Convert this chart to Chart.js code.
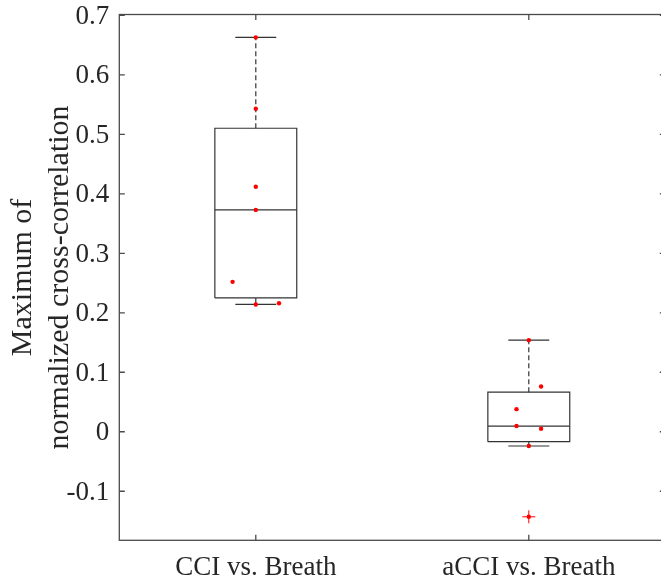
<!DOCTYPE html>
<html>
<head>
<meta charset="utf-8">
<script src="https://cdn.jsdelivr.net/npm/chart.js@4.4.0/dist/chart.umd.min.js"></script>
<style>
html, body { margin: 0; padding: 0; overflow: hidden; background: #fff; }
#wrap { width: 661px; height: 583px; overflow: hidden; position: relative; }
#myChart { position: absolute; left: 0; top: 0; }
</style>
</head>
<body>
<div id="wrap"><canvas id="myChart" width="666" height="583"></canvas></div>
<script>
// values
const categories = ['CCI vs. Breath', 'aCCI vs. Breath'];
const cciValues = [0.663, 0.543, 0.412, 0.373, 0.252, 0.214, 0.216];
const cciJitter = [0, 0, 0, 0, -0.085, 0, 0.085];
const acciValues = [0.154, 0.076, 0.038, 0.0096, 0.005, -0.024, -0.143];
const acciJitter = [0, 0.045, -0.045, -0.045, 0.045, 0, 0];
const yTicks = [-0.1, 0, 0.1, 0.2, 0.3, 0.4, 0.5, 0.6, 0.7];
const yLabel = ['Maximum of', 'normalized cross-correlation'];

const groups = [
    {values: cciValues, jitter: cciJitter},
    {values: acciValues, jitter: acciJitter}
];

const textColor = '#262626';
const lineColor = '#333333';
const fontFamily = "'Liberation Serif', 'Times New Roman', serif";

// same percentile rule as matlab's prctile
function prctile(sorted, p) {
    const n = sorted.length;
    const pos = n * p / 100 + 0.5;
    if (pos < 1) return sorted[0];
    if (pos >= n) return sorted[n - 1];
    const i = Math.floor(pos);
    return sorted[i - 1] + (pos - i) * (sorted[i] - sorted[i - 1]);
}

function boxStats(values) {
    const s = values.slice().sort((a, b) => a - b);
    const q1 = prctile(s, 25), med = prctile(s, 50), q3 = prctile(s, 75);
    const iqr = q3 - q1;
    const lo = q1 - 1.5 * iqr, hi = q3 + 1.5 * iqr;
    const inside = s.filter(v => v >= lo && v <= hi);
    return {
        q1, med, q3,
        wLow: inside[0],
        wHigh: inside[inside.length - 1],
        outliers: s.filter(v => v < lo || v > hi)
    };
}

function segment(points, dash) {
    return {
        data: points,
        showLine: true,
        fill: false,
        borderColor: lineColor,
        borderWidth: 1.2,
        borderDash: dash || [],
        pointRadius: 0,
        order: 2
    };
}

const datasets = [];
const halfBox = 0.15, halfCap = 0.075;

groups.forEach((g, i) => {
    const c = i + 1;
    const st = boxStats(g.values);

    datasets.push(segment([
        {x: c - halfBox, y: st.q1}, {x: c + halfBox, y: st.q1},
        {x: c + halfBox, y: st.q3}, {x: c - halfBox, y: st.q3},
        {x: c - halfBox, y: st.q1}
    ]));
    datasets.push(segment([{x: c - halfBox, y: st.med}, {x: c + halfBox, y: st.med}]));
    datasets.push(segment([{x: c, y: st.q3}, {x: c, y: st.wHigh}], [5, 3]));
    datasets.push(segment([{x: c, y: st.q1}, {x: c, y: st.wLow}], [5, 3]));
    datasets.push(segment([{x: c - halfCap, y: st.wHigh}, {x: c + halfCap, y: st.wHigh}]));
    datasets.push(segment([{x: c - halfCap, y: st.wLow}, {x: c + halfCap, y: st.wLow}]));

    datasets.push({
        data: st.outliers.map(v => ({x: c, y: v})),
        pointStyle: 'cross',
        pointRadius: 6.5,
        borderColor: '#ff0000',
        borderWidth: 1,
        order: 1
    });

    datasets.push({
        data: g.values.map((v, k) => ({x: c + g.jitter[k], y: v})),
        pointRadius: 2.2,
        backgroundColor: '#ff0000',
        borderWidth: 0,
        order: 0
    });
});

const matlabAxes = {
    id: 'matlabAxes',
    afterDraw(chart) {
        const {ctx, chartArea: a} = chart;
        const x = chart.scales.x, y = chart.scales.y;
        const tl = 5.5;
        ctx.save();
        ctx.strokeStyle = '#4a4a4a';
        ctx.lineWidth = 1.3;
        ctx.strokeRect(a.left, a.top, a.right - a.left, a.bottom - a.top);
        ctx.beginPath();
        yTicks.forEach(v => {
            const py = y.getPixelForValue(v);
            ctx.moveTo(a.left, py);
            ctx.lineTo(a.left + tl, py);
            ctx.moveTo(a.right, py);
            ctx.lineTo(a.right - tl, py);
        });
        categories.forEach((name, i) => {
            const px = x.getPixelForValue(i + 1);
            ctx.moveTo(px, a.bottom);
            ctx.lineTo(px, a.bottom - tl);
            ctx.moveTo(px, a.top);
            ctx.lineTo(px, a.top + tl);
        });
        ctx.stroke();
        ctx.restore();
    }
};

const ctx = document.getElementById('myChart').getContext('2d');

const myChart = new Chart(ctx, {
    type: 'scatter',
    data: {datasets: datasets},
    plugins: [matlabAxes],
    options: {
        responsive: false,
        animation: false,
        layout: {
            autoPadding: false,
            padding: {left: 0, top: 14.5, right: 0.7, bottom: 0}
        },
        plugins: {
            legend: {display: false},
            tooltip: {enabled: false}
        },
        scales: {
            x: {
                type: 'linear',
                min: 0.5,
                max: 2.5,
                grid: {display: false, drawTicks: false},
                border: {display: false},
                afterBuildTicks: function(scale) {
                    scale.ticks = categories.map((name, i) => ({value: i + 1}));
                },
                afterFit: function(scale) {
                    scale.height = 42.7;
                    scale.paddingLeft = 0;
                    scale.paddingRight = 0;
                },
                ticks: {
                    autoSkip: false,
                    maxRotation: 0,
                    minRotation: 0,
                    padding: 11.5,
                    color: textColor,
                    font: {family: fontFamily, size: 27},
                    callback: function(value) {
                        return categories[value - 1];
                    }
                }
            },
            y: {
                min: -0.1825,
                max: 0.7015,
                grid: {display: false, drawTicks: false},
                border: {display: false},
                afterBuildTicks: function(scale) {
                    scale.ticks = yTicks.map(v => ({value: v}));
                },
                afterFit: function(scale) {
                    scale.width = 119.3;
                    scale.paddingTop = 0;
                    scale.paddingBottom = 0;
                },
                title: {
                    display: true,
                    text: yLabel,
                    color: textColor,
                    padding: {top: 4.7, bottom: 0},
                    font: {family: fontFamily, size: 30, lineHeight: 1.233}
                },
                ticks: {
                    padding: 10,
                    labelOffset: 1.5,
                    color: textColor,
                    font: {family: fontFamily, size: 27},
                    callback: function(value) {
                        return value === 0 ? '0' : value.toFixed(1);
                    }
                }
            }
        }
    }
});
</script>
</body>
</html>
